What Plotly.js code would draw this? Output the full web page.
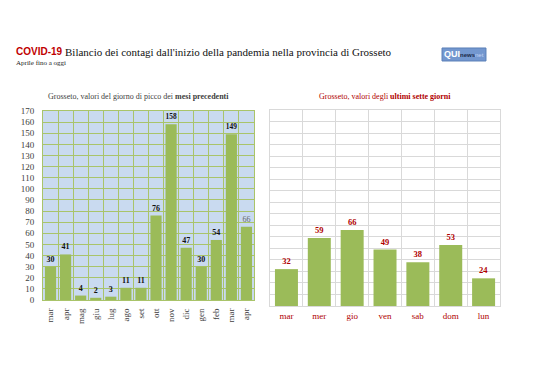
<!DOCTYPE html>
<html>
<head>
<meta charset="utf-8">
<script src="https://cdn.plot.ly/plotly-3.0.1.min.js"></script>
<style>html,body{margin:0;padding:0;background:#fff;}#chart{width:538px;height:380px;}</style>
</head>
<body>
<div id="chart"></div>
<script>
// Left chart: peak-day values of previous months
var monthKeys = ['2020-03','2020-04','2020-05','2020-06','2020-07','2020-08','2020-09','2020-10','2020-11','2020-12','2021-01','2021-02','2021-03','2021-04'];
var monthLabels = ['mar','apr','mag','giu','lug','ago','set','ott','nov','dic','gen','feb','mar','apr'];
var monthValues = [30, 41, 4, 2, 3, 11, 11, 76, 158, 47, 30, 54, 149, 66];

// Right chart: last seven days
var dayLabels = ['mar','mer','gio','ven','sab','dom','lun'];
var dayValues = [32, 59, 66, 49, 38, 53, 24];

var SERIF = 'Liberation Serif, Times New Roman, serif';
var SANS = 'Liberation Sans, Arial, sans-serif';
var GREEN = '#9BBB59';
var DARKRED = '#B00000';

var last = monthValues.length - 1;
var leftText = monthValues.map(function(v, i){ return i === last ? String(v) : '<b>' + v + '</b>'; });
var leftTextColors = monthValues.map(function(v, i){ return i === last ? '#666666' : '#111111'; });

var traces = [
  {
    type: 'bar', x: monthKeys, y: monthValues, xaxis: 'x', yaxis: 'y',
    marker: {color: GREEN}, width: 0.74,
    text: leftText, textposition: 'outside', cliponaxis: false,
    textfont: {family: SERIF, size: 8, color: leftTextColors},
    hoverinfo: 'none'
  },
  {
    type: 'bar', x: dayLabels, y: dayValues, xaxis: 'x2', yaxis: 'y2',
    marker: {color: GREEN}, width: 0.7,
    text: dayValues.map(function(v){ return '<b>' + v + '</b>'; }),
    textposition: 'outside', cliponaxis: false,
    textfont: {family: SERIF, size: 8.5, color: DARKRED},
    hoverinfo: 'none'
  }
];

var layout = {
  width: 538, height: 380,
  margin: {l: 0, r: 0, t: 0, b: 0},
  paper_bgcolor: '#ffffff', plot_bgcolor: 'rgba(0,0,0,0)',
  showlegend: false,
  font: {family: SERIF, color: '#333333'},
  xaxis: {
    domain: [0.0799, 0.4721], anchor: 'y', type: 'category',
    tickmode: 'array', tickvals: monthKeys, ticktext: monthLabels,
    tickson: 'boundaries', showgrid: true, gridcolor: '#A9C46A', gridwidth: 1,
    ticks: '', tickangle: -90, ticklabelstandoff: 4,
    tickfont: {family: SERIF, size: 9, color: '#404040'},
    showline: true, mirror: true, linecolor: '#A9C46A', linewidth: 1,
    zeroline: false, fixedrange: true
  },
  yaxis: {
    domain: [0.2105, 0.7079], anchor: 'x', range: [0, 170], dtick: 10,
    showgrid: true, gridcolor: '#A9C46A', gridwidth: 1,
    ticks: '', ticklabelstandoff: 6,
    tickfont: {family: SERIF, size: 9, color: '#404040'},
    showline: true, mirror: true, linecolor: '#A9C46A', linewidth: 1,
    zeroline: false, fixedrange: true
  },
  xaxis2: {
    domain: [0.5019, 0.9294], anchor: 'y2', type: 'category',
    tickson: 'boundaries', showgrid: true, gridcolor: '#D9D9D9', gridwidth: 1,
    ticks: '', ticklabelstandoff: 1,
    tickfont: {family: SERIF, size: 9, color: DARKRED},
    showline: true, mirror: true, linecolor: '#D9D9D9', linewidth: 1,
    zeroline: false, fixedrange: true
  },
  yaxis2: {
    domain: [0.1947, 0.7105], anchor: 'x2', range: [0, 170], dtick: 10,
    showgrid: true, gridcolor: '#D9D9D9', gridwidth: 1,
    showticklabels: false, ticks: '',
    showline: true, mirror: true, linecolor: '#D9D9D9', linewidth: 1,
    zeroline: false, fixedrange: true
  },
  shapes: [
    {type: 'rect', xref: 'x domain', yref: 'y domain', x0: 0, x1: 1, y0: 0, y1: 1,
     fillcolor: '#C9DAF0', line: {width: 0}, layer: 'below'},
    {type: 'rect', xref: 'paper', yref: 'paper', x0: 0.8216, x1: 0.9033, y0: 0.8395, y1: 0.8737,
     fillcolor: '#7397CF', line: {color: '#5A7FB8', width: 1}, layer: 'below'}
  ],
  annotations: [
    {xref: 'paper', yref: 'paper', x: 0.026, y: 0.864, xanchor: 'left', yanchor: 'middle', showarrow: false,
     text: '<b>COVID-19</b>', font: {family: SANS, size: 10, color: '#C00000'}},
    {xref: 'paper', yref: 'paper', x: 0.117, y: 0.863, xanchor: 'left', yanchor: 'middle', showarrow: false,
     text: "Bilancio dei contagi dall'inizio della pandemia nella provincia di Grosseto",
     font: {family: SERIF, size: 11, color: '#111111'}},
    {xref: 'paper', yref: 'paper', x: 0.026, y: 0.834, xanchor: 'left', yanchor: 'middle', showarrow: false,
     text: 'Aprile fino a oggi', font: {family: SERIF, size: 7, color: '#222222'}},
    {xref: 'paper', yref: 'paper', x: 0.8624, y: 0.8566, xanchor: 'center', yanchor: 'middle', showarrow: false,
     text: "<b>QUI</b><span style='font-size:6px;color:#1b2a4a'><b>news</b></span><span style='font-size:6px;color:#c4d6f5'>net</span>",
     font: {family: SANS, size: 9, color: '#ffffff'}},
    {xref: 'paper', yref: 'paper', x: 0.257, y: 0.745, xanchor: 'center', yanchor: 'middle', showarrow: false,
     text: 'Grosseto, valori del giorno di picco dei <b>mesi precedenti</b>',
     font: {family: SERIF, size: 8, color: '#404040'}},
    {xref: 'paper', yref: 'paper', x: 0.7147, y: 0.745, xanchor: 'center', yanchor: 'middle', showarrow: false,
     text: 'Grosseto, valori degli <b>ultimi sette giorni</b>',
     font: {family: SERIF, size: 8, color: DARKRED}}
  ]
};

Plotly.newPlot('chart', traces, layout, {displayModeBar: false, staticPlot: true});
</script>
</body>
</html>
